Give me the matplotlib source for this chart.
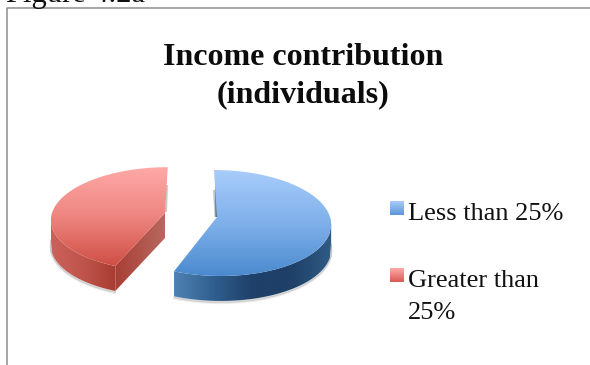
#!/usr/bin/env python3
"""Exploded 3-D style pie of income contribution, drawn on a pixel canvas."""

import numpy as np
import matplotlib
matplotlib.use('Agg')
import matplotlib.pyplot as plt
from matplotlib.colors import LinearSegmentedColormap
from matplotlib.lines import Line2D
from matplotlib.patches import PathPatch
from matplotlib.path import Path

plt.rcParams['font.family'] = ['Liberation Serif', 'DejaVu Serif']

title_lines = ['Income contribution', '(individuals)']
categories = ['Less than 25%', 'Greater than 25%']
shares = [56, 44]

W, H = 590, 365
DEPTH = 25
PERSP = 0.113


def project(theta, cx, cy, rx, ry, skew):
    """Map angle (clockwise from 12 o'clock) on a unit disc to canvas pixels."""
    u, v = np.sin(theta), -np.cos(theta)
    den = 1 - PERSP * v
    dy = ry * v / den
    return cx + rx * u / den + skew * dy, cy + dy


def fill_gradient(ax, pts, stops, axis, zorder):
    """Fill a polygon with a linear gradient clipped to its outline."""
    pts = np.asarray(pts)
    cmap = LinearSegmentedColormap.from_list('g', stops)
    ramp = np.linspace(0, 1, 256)
    x0, x1 = pts[:, 0].min(), pts[:, 0].max()
    y0, y1 = pts[:, 1].min(), pts[:, 1].max()
    grad = ramp[None, :] if axis == 'x' else ramp[:, None]
    im = ax.imshow(grad, cmap=cmap, extent=(x0, x1, y1, y0), origin='upper',
                   aspect='auto', zorder=zorder, interpolation='bilinear')
    patch = PathPatch(Path(np.vstack([pts, pts[:1]]), closed=True),
                      transform=ax.transData, fc='none', ec='none')
    ax.add_patch(patch)
    im.set_clip_path(patch)


def draw_wedge(ax, t0, t1, geom, top, wall, cut=None):
    """Draw one pie slice: side wall, optional cut face, then the top surface."""
    th = np.linspace(t0, t1, 200)
    ax_x, ax_y = project(th, **geom)
    arc = np.column_stack([ax_x, ax_y])
    apex = np.array([geom['cx'], geom['cy']])

    # outer wall only where the rim faces the viewer
    front = (th % (2 * np.pi) > np.pi / 2) & (th % (2 * np.pi) < 3 * np.pi / 2)
    rim = arc[front]
    rim = rim[np.argsort(rim[:, 0])]
    low = rim + [0, DEPTH]

    # soft contact shadow under the wall
    for off, alpha in [(1.0, 0.22), (2.2, 0.10)]:
        ax.plot(low[:, 0], low[:, 1] + off, color='#555555', lw=1.4,
                alpha=alpha, zorder=1.5, solid_capstyle='round')

    fill_gradient(ax, np.vstack([rim, low[::-1]]), wall, 'x', 2)

    if cut is not None:
        tip = arc[0]
        face = [apex, tip, tip + [0, DEPTH], apex + [0, DEPTH]]
        fill_gradient(ax, face, cut, 'x', 3)

    fill_gradient(ax, np.vstack([apex[None, :], arc]), top, 'y', 4)


fig = plt.figure(figsize=(W / 100, H / 100), dpi=100, facecolor='white')
ax = fig.add_axes([0, 0, 1, 1])
ax.set_xlim(0, W)
ax.set_ylim(H, 0)
ax.axis('off')

# chart frame, open on the right and bottom
ax.add_line(Line2D([7, 7, W], [H, 8, 8], color='#8e8e8e', lw=1.1, zorder=1))
ax.text(6, 2, 'Figure 4.2a', fontsize=22, color='#111111', va='baseline')

title_baselines = [65, 102]
for line, base in zip(title_lines, title_baselines):
    ax.text(303, base, line, fontsize=23, fontweight='bold',
            ha='center', va='baseline', color='#0c0c0c')

split = 2 * np.pi * shares[0] / sum(shares)

blue_geom = dict(cx=217, cy=217, rx=113, ry=52.3, skew=0.064)
red_geom = dict(cx=165, cy=213, rx=113, ry=51.0, skew=-0.06)

# thin slivers of shadow beside the two apexes
ax.fill([213, 215.5, 216.5, 214.5], [190, 190, 217, 217], color='#9aa3ad',
        alpha=0.6, lw=0, zorder=3)
ax.fill([215, 216.5, 217, 215.5], [180, 180, 217, 217], color='#3b4754',
        alpha=0.75, lw=0, zorder=3)
ax.fill([166, 168, 167, 165], [185, 185, 212, 212], color='#a5a5a5',
        alpha=0.6, lw=0, zorder=3)

draw_wedge(ax, split, 0, blue_geom,
           top=['#a8ccfb', '#7fb0ea', '#4a8ace'],
           wall=['#4f82b4', '#2f5f8e', '#1f4068', '#1f4068', '#2f5c86'])
draw_wedge(ax, split, 2 * np.pi, red_geom,
           top=['#ffa9a8', '#ee8580', '#cf4f45'],
           wall=['#cc625c', '#bf544c', '#a83c32'],
           cut=['#a83f35', '#b8685f'])

# legend keys and labels
key_tops = [201, 268]
key_colors = [['#a8ccfb', '#5b97d8'], ['#ffabaa', '#d85a50']]
for y, stops in zip(key_tops, key_colors):
    fill_gradient(ax, [(390, y), (404, y), (404, y + 14), (390, y + 14)], stops, 'y', 4)
ax.text(408, 220, categories[0], fontsize=19, color='#111111')
ax.text(408, 287, 'Greater than', fontsize=19, color='#111111')
ax.text(408, 319, '25%', fontsize=19, color='#111111')

ax.set_xlim(0, W)
ax.set_ylim(H, 0)
fig.savefig('out.png', dpi=100, facecolor='white')
